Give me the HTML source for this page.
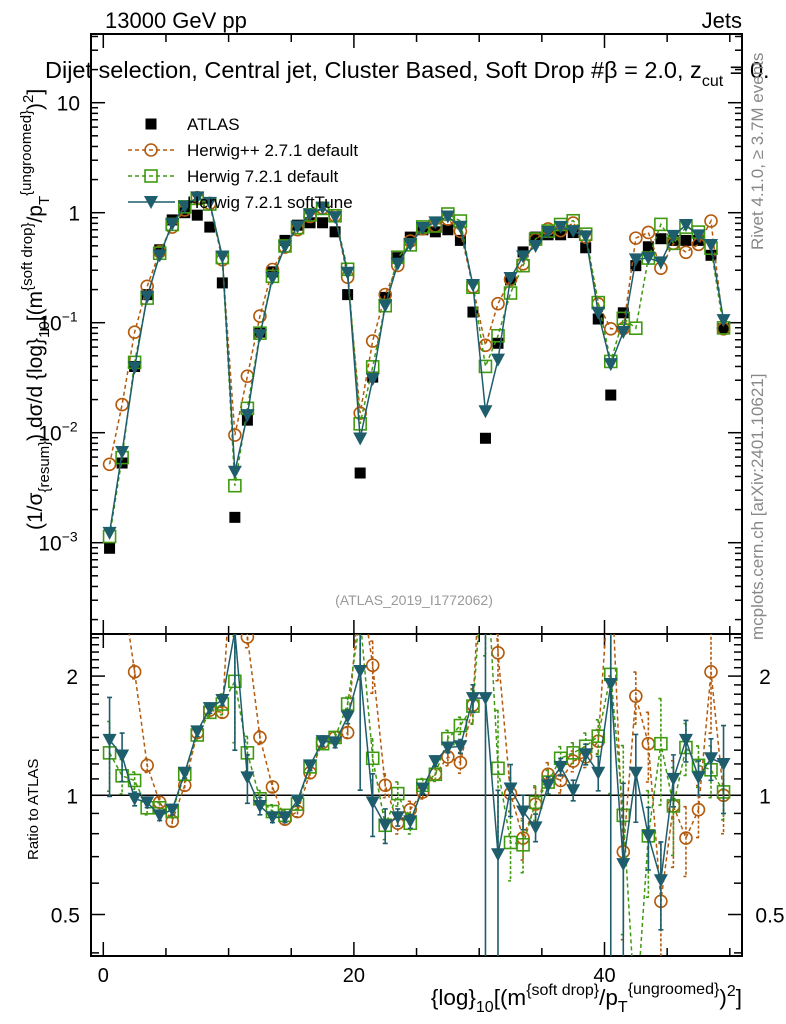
<!DOCTYPE html>
<html><head><meta charset="utf-8"><style>
html,body{margin:0;padding:0;background:#fff;width:786px;height:1024px;overflow:hidden;}
svg{display:block;font-family:"Liberation Sans",Arial,sans-serif;}
</style></head><body>
<svg id="c" width="786" height="1024" viewBox="0 0 786 1024" xmlns="http://www.w3.org/2000/svg">
<defs>
<clipPath id="clipMain"><rect x="91" y="34" width="651" height="600"/></clipPath>
<clipPath id="clipRatio"><rect x="91" y="634" width="651" height="322"/></clipPath>
</defs>
<text x="105" y="28" font-size="22">13000 GeV pp</text>
<text x="742" y="28" font-size="22" text-anchor="end">Jets</text>
<text x="45" y="78" font-size="23.5">Dijet selection, Central jet, Cluster Based, Soft Drop #β = 2.0, z<tspan font-size="16" dy="8">cut</tspan><tspan dy="-8"> = 0.</tspan></text>
<text x="414" y="605" font-size="14" fill="#999" text-anchor="middle">(ATLAS_2019_I1772062)</text>
<text transform="translate(763,250) rotate(-90)" font-size="17" fill="#888">Rivet 4.1.0, ≥ 3.7M events</text>
<text transform="translate(763,640) rotate(-90)" font-size="17" fill="#888">mcplots.cern.ch [arXiv:2401.10621]</text>
<text transform="translate(42,530) rotate(-90)" font-size="21">(1/σ<tspan font-size="15" dy="7">{resum}</tspan><tspan dy="-7">) dσ/d {log}</tspan><tspan font-size="15" dy="7">10</tspan><tspan dy="-7">[(m</tspan><tspan font-size="15" dy="-10">{soft drop}</tspan><tspan dy="10">/p</tspan><tspan font-size="15" dy="7">T</tspan><tspan font-size="15" dy="-18">{ungroomed}</tspan><tspan dy="11">)</tspan><tspan font-size="15" dy="-9">2</tspan><tspan dy="9">]</tspan></text>
<text transform="translate(38,860) rotate(-90)" font-size="15">Ratio to ATLAS</text>
<text x="742" y="1005" font-size="22.5" text-anchor="end">{log}<tspan font-size="16" dy="7">10</tspan><tspan dy="-7">[(m</tspan><tspan font-size="16" dy="-10">{soft drop}</tspan><tspan dy="10">/p</tspan><tspan font-size="16" dy="7">T</tspan><tspan font-size="16" dy="-18">{ungroomed}</tspan><tspan dy="11">)</tspan><tspan font-size="16" dy="-9">2</tspan><tspan dy="9">]</tspan></text>
<g id="axes"></g>
<g id="marks"></g>
<g id="legend"></g>
</svg>
<script>
const data = [0.00089,0.0053,0.040,0.18,0.46,0.86,1.0,0.95,0.74,0.23, 0.0017,0.013,0.082,0.29,0.56,0.77,0.81,0.81,0.67,0.18, 0.0043,0.032,0.17,0.39,0.60,0.70,0.67,0.70,0.56,0.125, 0.0089,0.065,0.245,0.44,0.60,0.63,0.63,0.66,0.48,0.108, 0.022,0.123,0.33,0.49,0.58,0.56,0.56,0.56,0.41,0.088];
const ratioHpp = [5.8,3.4,2.05,1.19,0.96,0.86,1.06,1.44,1.64,1.62, 5.6,2.51,1.40,1.05,0.87,0.91,1.14,1.36,1.40,1.44, 3.5,2.13,1.06,0.85,0.92,1.02,1.13,1.25,1.21,1.69, 7.0,2.29,1.01,0.78,0.95,1.13,1.09,1.22,1.25,1.37, 4.0,0.72,1.78,1.35,0.54,0.94,0.78,0.92,2.05,1.0];
const ratioH721 = [1.28,1.12,1.09,0.93,0.93,0.91,1.13,1.42,1.62,1.70, 1.94,1.28,0.98,0.91,0.89,0.95,1.18,1.35,1.40,1.70, 2.8,1.24,0.84,1.01,0.85,1.06,1.13,1.39,1.50,1.68, 4.5,1.17,0.76,0.75,0.96,1.08,1.24,1.28,1.33,1.41, 2.02,0.89,0.27,0.79,1.35,0.94,1.32,1.19,1.16,1.02];
const ratioSoft = [1.38,1.26,0.98,0.96,0.89,0.92,1.14,1.45,1.66,1.74, 2.6,1.11,0.94,0.88,0.88,0.97,1.19,1.37,1.36,1.58, 2.06,0.96,0.84,0.88,0.86,1.04,1.22,1.32,1.33,1.76, 1.76,0.71,1.04,0.91,0.83,1.06,1.18,1.03,1.27,1.14, 1.91,0.67,1.14,0.79,0.61,1.10,1.38,1.11,1.24,1.20];
const errSoft = [0.28,0.14,0.04,0.03,0.03,0.03,0.03,0.03,0.03,0.03, 0.5,0.14,0.05,0.03,0.03,0.03,0.03,0.03,0.03,0.04, 0.5,0.18,0.1,0.05,0.04,0.03,0.03,0.03,0.04,0.08, 0.8,0.45,0.15,0.1,0.08,0.05,0.05,0.06,0.06,0.1, 0.8,0.6,0.25,0.18,0.25,0.15,0.12,0.1,0.12,0.25];
const errHpp = [0.1,0.1,0.04,0.04,0.03,0.03,0.03,0.03,0.03,0.03, 0.2,0.06,0.04,0.03,0.03,0.03,0.03,0.03,0.03,0.03, 0.2,0.15,0.07,0.06,0.05,0.04,0.04,0.05,0.06,0.1, 0.4,0.15,0.1,0.12,0.1,0.07,0.07,0.06,0.06,0.07, 0.5,0.4,0.15,0.2,0.4,0.3,0.2,0.15,0.3,0.2];
const errH721 = [0.2,0.1,0.05,0.04,0.03,0.03,0.03,0.03,0.03,0.06, 0.3,0.1,0.05,0.04,0.03,0.03,0.03,0.03,0.03,0.04, 0.3,0.12,0.08,0.07,0.06,0.04,0.04,0.05,0.05,0.1, 0.5,0.4,0.2,0.15,0.1,0.07,0.07,0.06,0.08,0.1, 0.5,0.5,0.3,0.3,0.3,0.25,0.15,0.12,0.15,0.15];
const xTicks = [0,20,40];
const mainDecades = [-3,-2,-1,0,1];
const mainLabels = ["10<tspan font-size='14' dy='-9'>−3</tspan>","10<tspan font-size='14' dy='-9'>−2</tspan>","10<tspan font-size='14' dy='-9'>−1</tspan>","1","10"];
const ratioTickLabels = [0.5,1,2];

const NS="http://www.w3.org/2000/svg";
const X=v=>103.3+12.53*v;
const Y=v=>102.7-110*(Math.log10(v)-1);
const R=v=>795.3-396*Math.log10(v);
const L=91,Rt=742,T=34,M=634,B=956;
function el(tag,attrs,parent){const e=document.createElementNS(NS,tag);for(const k in attrs)e.setAttribute(k,attrs[k]);parent.appendChild(e);return e;}
const axes=document.getElementById('axes'),marks=document.getElementById('marks'),leg=document.getElementById('legend');

let f1=el('rect',{x:L,y:T,width:Rt-L,height:M-T,fill:'none',stroke:'#000','stroke-width':2},axes);


let f2=el('rect',{x:L,y:M,width:Rt-L,height:B-M,fill:'none',stroke:'#000','stroke-width':2},axes);



for(let v=0;v<=50;v+=5){
  const major=(v%20===0), x=X(v);
  const len=major?14:8;
  [[T,T+len],[M,M-len],[M,M+len],[B,B-len]].forEach(p=>{
    const t=el('line',{x1:x,x2:x,y1:p[0],y2:p[1],stroke:'#000','stroke-width':1.5},axes);
    
    
  });
}
xTicks.forEach(v=>{
  const t=el('text',{x:X(v),y:982,'font-size':20,'text-anchor':'middle'},axes);t.textContent=v;
  
  
});
for(let d=-4;d<=1;d++){
  for(let m=1;m<=9;m++){
    const v=m*Math.pow(10,d),y=Y(v);
    if(y<T||y>M)continue;
    const len=m===1?14:7;
    const a=el('line',{x1:L,x2:L+len,y1:y,y2:y,stroke:'#000','stroke-width':1.5},axes);
    
    
    const b=el('line',{x1:Rt,x2:Rt-len,y1:y,y2:y,stroke:'#000','stroke-width':1.5},axes);
    
    
  }
}
mainDecades.forEach((d,i)=>{
  const t=el('text',{x:d<0?58:80,y:Y(Math.pow(10,d))+8,'font-size':21,'text-anchor':d<0?'middle':'end'},axes);
  t.innerHTML=mainLabels[i];
  
  
});
for(let v=0.4;v<=2.55;v+=0.1){
  const y=R(v); if(y<M||y>B)continue;
  const major=Math.abs(v-0.5)<1e-6||Math.abs(v-1)<1e-6||Math.abs(v-2)<1e-6;
  const len=major?14:8;
  const a=el('line',{x1:L,x2:L+len,y1:y,y2:y,stroke:'#000','stroke-width':1.5},axes);
  
  
  const b=el('line',{x1:Rt,x2:Rt-len,y1:y,y2:y,stroke:'#000','stroke-width':1.5},axes);
  
  
}
ratioTickLabels.forEach(v=>{
  const s=v===0.5?'0.5':String(v);
  const a=el('text',{x:v===0.5?80:78,y:R(v)+8,'font-size':21,'text-anchor':'end'},axes);a.textContent=s;
  
  
  const b=el('text',{x:v===0.5?770:765,y:R(v)+8,'font-size':21,'text-anchor':'middle'},axes);b.textContent=s;
  
  
});
const one=el('line',{x1:L,x2:Rt,y1:R(1),y2:R(1),stroke:'#000','stroke-width':1.5},axes);



const gMain=el('g',{'clip-path':'url(#clipMain)'},marks);
const gRat=el('g',{'clip-path':'url(#clipRatio)'},marks);

function marker(type,x,y,color,parent){
  let e;
  if(type==='data')e=el('rect',{x:x-5.5,y:y-5.5,width:11,height:11,fill:'#000'},parent);
  else if(type==='circle')e=el('circle',{cx:x,cy:y,r:6,fill:'none',stroke:color,'stroke-width':1.6},parent);
  else if(type==='square')e=el('rect',{x:x-6,y:y-6,width:12,height:12,fill:'none',stroke:color,'stroke-width':1.6},parent);
  else e=el('path',{d:`M${x-7},${y-6}L${x+7},${y-6}L${x},${y+7}Z`,fill:color},parent);
  return e;
}
const series=[
  {name:'herwigpp-271',ratio:ratioHpp,err:errHpp,color:'#b35a0c',type:'circle',dash:'4,3',label:'Herwig++ 2.7.1 default'},
  {name:'herwig-721',ratio:ratioH721,err:errH721,color:'#3f9a10',type:'square',dash:'4,3',label:'Herwig 7.2.1 default'},
  {name:'herwig-721-softtune',ratio:ratioSoft,err:errSoft,color:'#1e5d6c',type:'tri',dash:'',label:'Herwig 7.2.1 softTune'}
];
data.forEach((v,i)=>{
  const m=marker('data',X(i+0.5),Y(v),'#000',gMain);
  
  
});
series.forEach(s=>{
  const mainPts=data.map((v,i)=>[X(i+0.5),Y(v*s.ratio[i])]);
  const ratPts=s.ratio.map((r,i)=>[X(i+0.5),R(r)]);
  const lm=el('polyline',{points:mainPts.map(p=>p.join(',')).join(' '),fill:'none',stroke:s.color,'stroke-width':1.5,'stroke-dasharray':s.dash},gMain);
  
  
  const lr=el('polyline',{points:ratPts.map(p=>p.join(',')).join(' '),fill:'none',stroke:s.color,'stroke-width':1.5,'stroke-dasharray':s.dash},gRat);
  
  
  s.ratio.forEach((r,i)=>{
    const x=X(i+0.5),e=s.err[i];
    const y1=R(r*(1+e)),y2=R(Math.max(r*(1-e),0.01));
    const eb=el('path',{d:`M${x},${y1}L${x},${y2}M${x-2.5},${y1}L${x+2.5},${y1}M${x-2.5},${y2}L${x+2.5},${y2}`,stroke:s.color,'stroke-width':1.6,'stroke-dasharray':s.dash?'3,2':'',fill:'none'},gRat);
    
    
    const m=marker(s.type,x,R(r),s.color,gRat);
    
    
    const mm=marker(s.type,x,Y(data[i]*r),s.color,gMain);
    
    
  });
});
const legRows=[{type:'data',color:'#000',label:'ATLAS',dash:null,name:'atlas'}].concat(series.map(s=>({type:s.type,color:s.color,label:s.label,dash:s.dash,name:s.name})));
legRows.forEach((r,k)=>{
  const y=124+26*k;
  const g=el('g',{},leg);
  
  
  if(r.dash!==null){el('line',{x1:128,x2:175,y1:y,y2:y,stroke:r.color,'stroke-width':1.5,'stroke-dasharray':r.dash},g);}
  marker(r.type,151,y,r.color,g);
  const t=el('text',{x:187,y:y+6,'font-size':17},g);t.textContent=r.label;
});
</script>
</body></html>
